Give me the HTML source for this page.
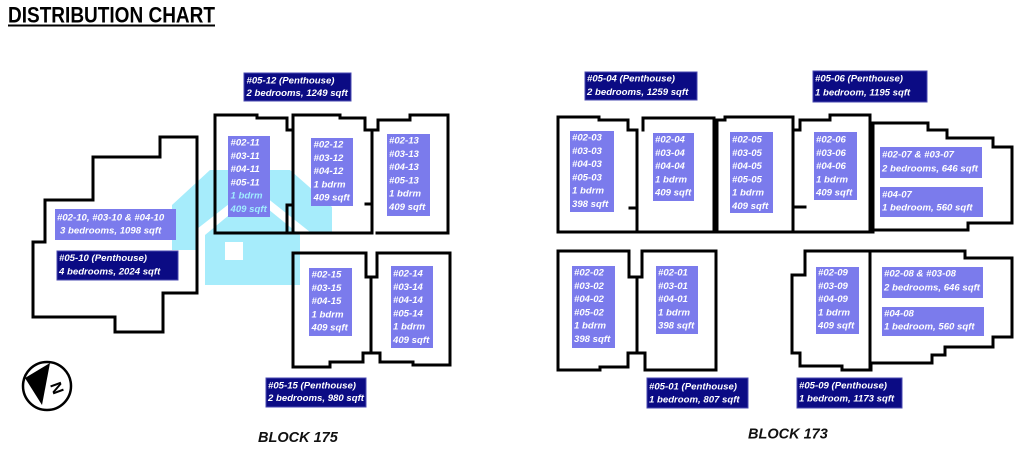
<!DOCTYPE html>
<html><head><meta charset="utf-8"><style>
html,body{margin:0;padding:0;background:#fff;}
svg{display:block;}
.t{font-family:"Liberation Sans",sans-serif;font-style:italic;font-weight:bold;font-size:9.6px;fill:#fff;}
.c{fill:#a8eeff;}
.nv{fill:#0b0b84;stroke:#4848b0;stroke-width:1;}
.lv{fill:#7b7bec;}
.w{fill:none;stroke:#000;stroke-width:3;stroke-linejoin:miter;stroke-linecap:square;}
</style></head><body>
<svg width="1024" height="454" viewBox="0 0 1024 454" xmlns="http://www.w3.org/2000/svg">
<rect width="1024" height="454" fill="#fff"/>
<!-- title -->
<text x="8" y="22.5" font-family="Liberation Sans, sans-serif" font-weight="bold" font-size="22" textLength="207" lengthAdjust="spacingAndGlyphs" fill="#000">DISTRIBUTION CHART</text>
<rect x="8" y="24.5" width="207" height="2" fill="#000"/>

<!-- watermark -->
<g fill="#a6ecfb">
<polygon points="172,205 210,170 290,170 332,207 332,232 310,232 252,186 197,229 197,250 172,250"/>
<polygon points="205,235 252,196 300,235 300,285 205,285"/>
</g>
<rect x="225" y="242" width="18" height="18" fill="#fff"/>

<!-- Block 175 walls -->
<polygon class="w" points="33,242 33,317 115,317 115,332 163,332 163,293 197,293 197,137 160,137 160,157 93,157 93,200 45,200 45,242"/>
<path class="w" d="M293,233 H215 V115 H257 V118 H287 V130 H293"/>
<path class="w" d="M293,205 H287 V233"/>
<path class="w" d="M293,115 V233"/>
<path class="w" d="M293,115 H340 V118 H365 V130 H378 V120 H410 V115 H448 V233 H377"/>
<path class="w" d="M372,130 V233 M366,204 H372 M293,233 H372"/>
<path class="w" d="M293,367 V253 H366 V277 H377 V253 H450 V365 H413 V362 H380 V353 H363 V362 H330 V367 Z"/>
<path class="w" d="M371,277 V353"/>

<!-- Block 173 walls -->
<path class="w" d="M637,232 H558 V117 H599 V120 H628 V130 H637"/>
<path class="w" d="M643,130 V118 H714 V232 H637"/>
<path class="w" d="M637,130 V232 M630,208 H637"/>
<path class="w" d="M717,232 V120 H725 V117 H793 V130 H800 V120 H830 V115 H870 V232 H717"/>
<path class="w" d="M793,130 V232 M793,207 H805"/>
<path class="w" d="M873,232 V123 H928 V130 H947 V138 H993 V147 H1012 V223 H968 V230 H873"/>
<path class="w" d="M558,251 H629 V277 H642 V251 H716 V370 H645 V353 H628 V367 H600 V370 H558 Z"/>
<path class="w" d="M637,277 V353"/>
<path class="w" d="M805,251 H965 V258 H1012 V337 H993 V347 H945 V355 H932 V363 H871 V370 H842 V366 H800 V353 H792 V275 H805 Z"/>
<path class="w" d="M870,251 V370"/>

<!-- compass -->
<circle cx="47" cy="386" r="24" fill="#fff" stroke="#000" stroke-width="2.5"/>
<polygon points="25,378 50,363 42,405" fill="#000"/>
<text transform="translate(57,388) rotate(70)" x="0" y="5.5" text-anchor="middle" font-family="Liberation Sans, sans-serif" font-weight="bold" font-size="16" fill="#000">N</text>

<!-- Block 175 labels -->
<rect class="nv" x="244" y="73" width="107" height="28"/>
<text class="t" x="246.5" y="83.5">#05-12 (Penthouse)</text>
<text class="t" x="246.5" y="96">2 bedrooms, 1249 sqft</text>

<rect class="lv" x="228" y="136" width="42" height="81"/>
<text class="t" x="230.5" y="145.5">#02-11</text>
<text class="t" x="230.5" y="158.8">#03-11</text>
<text class="t" x="230.5" y="172.1">#04-11</text>
<text class="t" x="230.5" y="185.4">#05-11</text>
<text class="t" x="230.5" y="198.7" style="fill:#a0ecff">1 bdrm</text>
<text class="t" x="230.5" y="212" style="fill:#a0ecff">409 sqft</text>

<rect class="lv" x="311" y="138" width="42" height="68"/>
<text class="t" x="313.5" y="147.5">#02-12</text>
<text class="t" x="313.5" y="160.8">#03-12</text>
<text class="t" x="313.5" y="174.1">#04-12</text>
<text class="t" x="313.5" y="187.4">1 bdrm</text>
<text class="t" x="313.5" y="200.7">409 sqft</text>

<rect class="lv" x="387" y="134" width="43" height="82"/>
<text class="t" x="389" y="143.5">#02-13</text>
<text class="t" x="389" y="156.8">#03-13</text>
<text class="t" x="389" y="170.1">#04-13</text>
<text class="t" x="389" y="183.4">#05-13</text>
<text class="t" x="389" y="196.7">1 bdrm</text>
<text class="t" x="389" y="210">409 sqft</text>

<rect class="lv" x="55" y="209" width="121" height="31"/>
<text class="t" x="57" y="220.5">#02-10, #03-10 &amp; #04-10</text>
<text class="t" x="60" y="233.5">3 bedrooms, 1098 sqft</text>

<rect class="nv" x="57" y="251" width="121" height="29"/>
<text class="t" x="59" y="261">#05-10 (Penthouse)</text>
<text class="t" x="59" y="274.5">4 bedrooms, 2024 sqft</text>

<rect class="lv" x="309" y="268" width="43" height="68"/>
<text class="t" x="311.5" y="277.5">#02-15</text>
<text class="t" x="311.5" y="290.8">#03-15</text>
<text class="t" x="311.5" y="304.1">#04-15</text>
<text class="t" x="311.5" y="317.4">1 bdrm</text>
<text class="t" x="311.5" y="330.7">409 sqft</text>

<rect class="lv" x="391" y="266" width="42" height="82"/>
<text class="t" x="393" y="276.5">#02-14</text>
<text class="t" x="393" y="289.8">#03-14</text>
<text class="t" x="393" y="303.1">#04-14</text>
<text class="t" x="393" y="316.4">#05-14</text>
<text class="t" x="393" y="329.7">1 bdrm</text>
<text class="t" x="393" y="343">409 sqft</text>

<rect class="nv" x="266" y="378" width="100" height="29"/>
<text class="t" x="268" y="388.5">#05-15 (Penthouse)</text>
<text class="t" x="268" y="401">2 bedrooms, 980 sqft</text>

<text x="258" y="442" font-family="Liberation Sans, sans-serif" font-style="italic" font-weight="bold" font-size="14.5" fill="#111">BLOCK 175</text>

<!-- Block 173 labels -->
<rect class="nv" x="585" y="72" width="112" height="28"/>
<text class="t" x="587" y="81.5">#05-04 (Penthouse)</text>
<text class="t" x="587" y="95">2 bedrooms, 1259 sqft</text>

<rect class="nv" x="813" y="71" width="114" height="31"/>
<text class="t" x="815" y="81.5">#05-06 (Penthouse)</text>
<text class="t" x="815" y="95.5">1 bedroom, 1195 sqft</text>

<rect class="lv" x="570" y="131" width="44" height="81"/>
<text class="t" x="572" y="140.5">#02-03</text>
<text class="t" x="572" y="153.8">#03-03</text>
<text class="t" x="572" y="167.1">#04-03</text>
<text class="t" x="572" y="180.4">#05-03</text>
<text class="t" x="572" y="193.7">1 bdrm</text>
<text class="t" x="572" y="207">398 sqft</text>

<rect class="lv" x="653" y="133" width="41" height="68"/>
<text class="t" x="655" y="142.5">#02-04</text>
<text class="t" x="655" y="155.8">#03-04</text>
<text class="t" x="655" y="169.1">#04-04</text>
<text class="t" x="655" y="182.4">1 bdrm</text>
<text class="t" x="655" y="195.7">409 sqft</text>

<rect class="lv" x="730" y="132" width="43" height="81"/>
<text class="t" x="732" y="142.5">#02-05</text>
<text class="t" x="732" y="155.8">#03-05</text>
<text class="t" x="732" y="169.1">#04-05</text>
<text class="t" x="732" y="182.4">#05-05</text>
<text class="t" x="732" y="195.7">1 bdrm</text>
<text class="t" x="732" y="209">409 sqft</text>

<rect class="lv" x="814" y="132" width="43" height="68"/>
<text class="t" x="816" y="142.5">#02-06</text>
<text class="t" x="816" y="155.8">#03-06</text>
<text class="t" x="816" y="169.1">#04-06</text>
<text class="t" x="816" y="182.4">1 bdrm</text>
<text class="t" x="816" y="195.7">409 sqft</text>

<rect class="lv" x="880" y="147" width="102" height="31"/>
<text class="t" x="882" y="157.5">#02-07 &amp; #03-07</text>
<text class="t" x="882" y="171.5">2 bedrooms, 646 sqft</text>

<rect class="lv" x="880" y="187" width="103" height="30"/>
<text class="t" x="882" y="197.5">#04-07</text>
<text class="t" x="882" y="210.5">1 bedroom, 560 sqft</text>

<rect class="lv" x="572" y="266" width="43" height="82"/>
<text class="t" x="574" y="275.5">#02-02</text>
<text class="t" x="574" y="288.8">#03-02</text>
<text class="t" x="574" y="302.1">#04-02</text>
<text class="t" x="574" y="315.4">#05-02</text>
<text class="t" x="574" y="328.7">1 bdrm</text>
<text class="t" x="574" y="342">398 sqft</text>

<rect class="lv" x="656" y="266" width="42" height="68"/>
<text class="t" x="658" y="275.5">#02-01</text>
<text class="t" x="658" y="288.8">#03-01</text>
<text class="t" x="658" y="302.1">#04-01</text>
<text class="t" x="658" y="315.4">1 bdrm</text>
<text class="t" x="658" y="328.7">398 sqft</text>

<rect class="lv" x="816" y="267" width="43" height="67"/>
<text class="t" x="818" y="275.5">#02-09</text>
<text class="t" x="818" y="288.8">#03-09</text>
<text class="t" x="818" y="302.1">#04-09</text>
<text class="t" x="818" y="315.4">1 bdrm</text>
<text class="t" x="818" y="328.7">409 sqft</text>

<rect class="lv" x="882" y="267" width="101" height="31"/>
<text class="t" x="884" y="276.5">#02-08 &amp; #03-08</text>
<text class="t" x="884" y="290.5">2 bedrooms, 646 sqft</text>

<rect class="lv" x="882" y="307" width="102" height="29"/>
<text class="t" x="884" y="316.5">#04-08</text>
<text class="t" x="884" y="329.5">1 bedroom, 560 sqft</text>

<rect class="nv" x="647" y="378" width="101" height="30"/>
<text class="t" x="649" y="389.5">#05-01 (Penthouse)</text>
<text class="t" x="649" y="402.5">1 bedroom, 807 sqft</text>

<rect class="nv" x="797" y="378" width="105" height="30"/>
<text class="t" x="799" y="388.5">#05-09 (Penthouse)</text>
<text class="t" x="799" y="401.5">1 bedroom, 1173 sqft</text>

<text x="748" y="438.5" font-family="Liberation Sans, sans-serif" font-style="italic" font-weight="bold" font-size="14.5" fill="#111">BLOCK 173</text>
</svg>
</body></html>
